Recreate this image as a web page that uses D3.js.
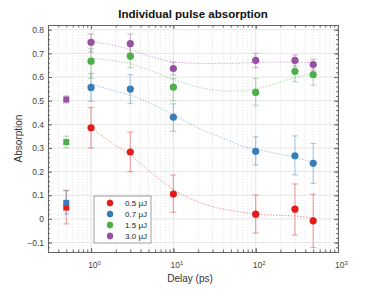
<!DOCTYPE html>
<html>
<head>
<meta charset="utf-8">
<script src="https://cdn.jsdelivr.net/npm/d3@7"></script>
<style>
  body { margin: 0; background: #fff; }
  svg { display: block; font-family: "Liberation Sans", Arial, sans-serif; }
</style>
</head>
<body>
<div id="chart"></div>
<script>
// delays (ps) for the circle points
const delays = [1, 3, 10, 100, 300, 500];
const labels = ["0.5 \u03bcJ", "0.7 \u03bcJ", "1.5 \u03bcJ", "3.0 \u03bcJ"];
const colors = ["#e41a1c", "#377eb8", "#4daf4a", "#984ea3"];

// absorption values per pulse energy
const red    = [0.385, 0.283, 0.105, 0.020, 0.041, -0.008];
const redLo  = [0.300, 0.200, 0.028, -0.060, -0.068, -0.121];
const redHi  = [0.471, 0.367, 0.186, 0.101, 0.148, 0.104];
const blue   = [0.556, 0.549, 0.430, 0.286, 0.267, 0.235];
const blueLo = [0.497, 0.488, 0.371, 0.228, 0.186, 0.150];
const blueHi = [0.615, 0.610, 0.487, 0.347, 0.351, 0.319];
const green   = [0.667, 0.688, 0.557, 0.535, 0.624, 0.610];
const greenLo = [0.595, 0.640, 0.500, 0.480, 0.580, 0.565];
const greenHi = [0.720, 0.740, 0.594, 0.594, 0.670, 0.650];
const purple   = [0.747, 0.741, 0.636, 0.670, 0.670, 0.653];
const purpleLo = [0.706, 0.700, 0.609, 0.640, 0.645, 0.630];
const purpleHi = [0.782, 0.782, 0.662, 0.700, 0.693, 0.675];

// square points at 0.5 ps
const sqDelay = 0.5;
const sqVal = [0.048, 0.068, 0.325, 0.505];
const sqLo  = [-0.021, 0.020, 0.300, 0.490];
const sqHi  = [0.120, 0.120, 0.350, 0.520];

// fitted curves
const fitX      = [1, 2, 3, 5, 10, 25, 45, 64, 100, 300, 500];
const fitRed    = [0.385, 0.310, 0.270, 0.205, 0.125, 0.060, 0.038, 0.030, 0.020, 0.012, 0.005];
const fitBlue   = [0.570, 0.540, 0.523, 0.492, 0.440, 0.370, 0.335, 0.312, 0.295, 0.260, 0.240];
const fitGreen  = [0.680, 0.667, 0.657, 0.630, 0.590, 0.550, 0.541, 0.541, 0.550, 0.597, 0.616];
const fitPurple = [0.750, 0.732, 0.716, 0.690, 0.664, 0.657, 0.657, 0.659, 0.662, 0.664, 0.660];

const yTicks = [-0.1, 0, 0.1, 0.2, 0.3, 0.4, 0.5, 0.6, 0.7, 0.8];
const xTicks = [1, 10, 100, 1000];

const series = [
  { v: red, lo: redLo, hi: redHi, fit: fitRed },
  { v: blue, lo: blueLo, hi: blueHi, fit: fitBlue },
  { v: green, lo: greenLo, hi: greenHi, fit: fitGreen },
  { v: purple, lo: purpleLo, hi: purpleHi, fit: fitPurple }
];

const width = 374, height = 289,
      margin = { top: 25, right: 36, bottom: 37, left: 48 };

const svg = d3.select("#chart").append("svg")
  .attr("width", width).attr("height", height);

const x = d3.scaleLog().domain([0.3, 1000]).range([margin.left, width - margin.right]);
const y = d3.scaleLinear().domain([-0.14, 0.82]).range([height - margin.bottom, margin.top]);

const x0 = margin.left, x1 = width - margin.right;
const y0 = height - margin.bottom, y1 = margin.top;

// minor x ticks (2..9 per decade)
const xMinor = x.ticks().filter(t => x.domain()[0] <= t && t <= x.domain()[1]);
const yMinor = d3.range(-0.14, 0.821, 0.02).map(v => Math.round(v * 100) / 100);

// grid
const grid = svg.append("g");
grid.selectAll(".xminor").data(xMinor).join("line")
  .attr("x1", d => x(d)).attr("x2", d => x(d))
  .attr("y1", y0).attr("y2", y1)
  .attr("stroke", "#e2e2e2").attr("stroke-width", 0.8)
  .attr("stroke-dasharray", "1.5,1.5");
grid.selectAll(".xmaj").data(xTicks).join("line")
  .attr("x1", d => x(d)).attr("x2", d => x(d))
  .attr("y1", y0).attr("y2", y1)
  .attr("stroke", "#e6e6e6").attr("stroke-width", 1);
grid.selectAll(".ymaj").data(yTicks).join("line")
  .attr("x1", x0).attr("x2", x1)
  .attr("y1", d => y(d)).attr("y2", d => y(d))
  .attr("stroke", "#e6e6e6").attr("stroke-width", 1);

// axes (ticks inward, box all round)
const axisColor = "#666";
function styleAxis(g) {
  g.select(".domain").attr("stroke", axisColor);
  g.selectAll(".tick line").attr("stroke", axisColor);
  g.selectAll(".tick text").attr("fill", "#444").style("font-size", "8.5px");
}
svg.append("g").attr("transform", `translate(0,${y0})`)
  .call(d3.axisBottom(x).tickValues(xMinor).tickSize(-2.5).tickSizeOuter(0).tickFormat(""))
  .call(styleAxis);
svg.append("g").attr("transform", `translate(0,${y1})`)
  .call(d3.axisTop(x).tickValues(xMinor).tickSize(-2.5).tickSizeOuter(0).tickFormat(""))
  .call(styleAxis);
svg.append("g").attr("transform", `translate(${x0},0)`)
  .call(d3.axisLeft(y).tickValues(yMinor).tickSize(-2).tickSizeOuter(0).tickFormat(""))
  .call(styleAxis);
svg.append("g").attr("transform", `translate(${x1},0)`)
  .call(d3.axisRight(y).tickValues(yMinor).tickSize(-2).tickSizeOuter(0).tickFormat(""))
  .call(styleAxis);

const xAxis = svg.append("g").attr("transform", `translate(0,${y0})`)
  .call(d3.axisBottom(x).tickValues(xTicks).tickSize(-4).tickSizeOuter(0).tickPadding(10).tickFormat(""))
  .call(styleAxis);
xAxis.selectAll(".tick text").each(function (d) {
  const t = d3.select(this);
  t.append("tspan").text("10");
  t.append("tspan").attr("dy", "-0.45em").style("font-size", "6px").text(Math.round(Math.log10(d)));
}).attr("dx", "3px");
svg.append("g").attr("transform", `translate(0,${y1})`)
  .call(d3.axisTop(x).tickValues(xTicks).tickSize(-4).tickSizeOuter(0).tickFormat(""))
  .call(styleAxis);
svg.append("g").attr("transform", `translate(${x0},0)`)
  .call(d3.axisLeft(y).tickValues(yTicks).tickSize(-4).tickSizeOuter(0).tickPadding(4)
    .tickFormat(d => d === 0 ? "0" : d3.format(".1f")(d)))
  .call(styleAxis);
svg.append("g").attr("transform", `translate(${x1},0)`)
  .call(d3.axisRight(y).tickValues(yTicks).tickSize(-4).tickSizeOuter(0).tickFormat(""))
  .call(styleAxis);

// fit curves
const line = d3.line().x(d => x(d[0])).y(d => y(d[1])).curve(d3.curveMonotoneX);
series.forEach((s, i) => {
  svg.append("path")
    .datum(fitX.map((xv, j) => [xv, s.fit[j]]))
    .attr("d", line)
    .attr("fill", "none")
    .attr("stroke", colors[i]).attr("stroke-opacity", 0.45)
    .attr("stroke-width", 1)
    .attr("stroke-dasharray", "1.5,1.5");
});

// error bars
function errorBar(g, xv, lo, hi, color) {
  const cx = x(xv), cap = 3;
  const e = g.append("g").attr("stroke", color).attr("stroke-opacity", 0.35).attr("stroke-width", 1.3);
  e.append("line").attr("x1", cx).attr("x2", cx).attr("y1", y(lo)).attr("y2", y(hi));
  e.append("line").attr("x1", cx - cap).attr("x2", cx + cap).attr("y1", y(lo)).attr("y2", y(lo));
  e.append("line").attr("x1", cx - cap).attr("x2", cx + cap).attr("y1", y(hi)).attr("y2", y(hi));
}

const marks = svg.append("g");
series.forEach((s, i) => {
  delays.forEach((d, j) => errorBar(marks, d, s.lo[j], s.hi[j], colors[i]));
  errorBar(marks, sqDelay, sqLo[i], sqHi[i], colors[i]);
});
series.forEach((s, i) => {
  marks.selectAll(null).data(delays).join("circle")
    .attr("cx", d => x(d)).attr("cy", (d, j) => y(s.v[j]))
    .attr("r", 3.6).attr("fill", colors[i]);
  marks.append("rect")
    .attr("x", x(sqDelay) - 3).attr("y", y(sqVal[i]) - 3)
    .attr("width", 6).attr("height", 6).attr("fill", colors[i]);
});

// legend
const lg = svg.append("g").attr("transform", "translate(94,196)");
lg.append("rect").attr("width", 57).attr("height", 47)
  .attr("fill", "#fff").attr("stroke", "#888").attr("stroke-width", 0.8);
labels.forEach((l, i) => {
  const row = lg.append("g").attr("transform", `translate(0,${7 + i * 11})`);
  row.append("line").attr("x1", 16).attr("x2", 16).attr("y1", -4).attr("y2", 4)
    .attr("stroke", colors[i]).attr("stroke-opacity", 0.35).attr("stroke-width", 1.3);
  row.append("circle").attr("cx", 16).attr("cy", 0).attr("r", 3.2).attr("fill", colors[i]);
  row.append("text").attr("x", 53).attr("y", 3)
    .attr("text-anchor", "end").style("font-size", "8px").attr("fill", "#222").text(l);
});

// title and axis labels
svg.append("text").attr("x", (x0 + x1) / 2).attr("y", 18)
  .attr("text-anchor", "middle").style("font-size", "11.5px").style("font-weight", "bold")
  .attr("fill", "#111").text("Individual pulse absorption");
svg.append("text").attr("x", (x0 + x1) / 2 - 3).attr("y", 282)
  .attr("text-anchor", "middle").style("font-size", "10px").attr("fill", "#333").text("Delay (ps)");
svg.append("text").attr("transform", `translate(22,${(y0 + y1) / 2}) rotate(-90)`)
  .attr("text-anchor", "middle").style("font-size", "10px").attr("fill", "#333").text("Absorption");
</script>
</body>
</html>
